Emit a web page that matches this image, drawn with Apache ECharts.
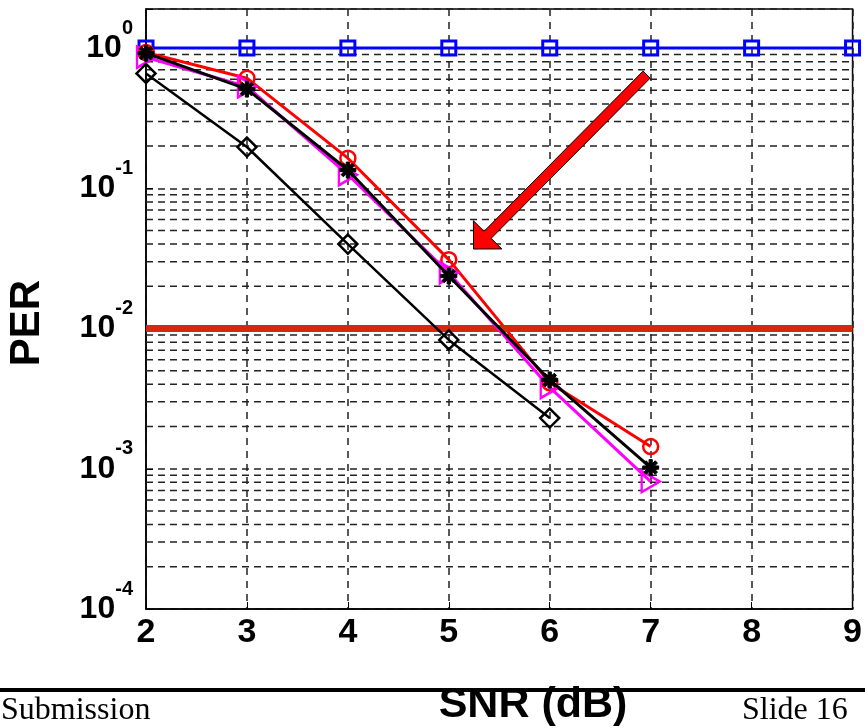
<!DOCTYPE html>
<html>
<head>
<meta charset="utf-8">
<script src="https://cdn.jsdelivr.net/npm/echarts@6/dist/echarts.min.js"></script>
<style>
html, body { margin: 0; padding: 0; background: #fff; }
#chart { width: 865px; height: 728px; }
</style>
</head>
<body>
<div id="chart"></div>
<script>
// SNR values (x) and PER curves
var snr = [2, 3, 4, 5, 6, 7, 8, 9];
var perSquare = [1, 1, 1, 1, 1, 1, 1, 1];
var perCircle = [0.93, 0.61, 0.164, 0.031, 0.0041, 0.00144];
var perTriangle = [0.86, 0.53, 0.125, 0.025, 0.0038, 0.00081];
var perStar = [0.92, 0.51, 0.135, 0.0237, 0.0043, 0.00102];
var perDiamond = [0.66, 0.197, 0.04, 0.0083, 0.0023];
var targetPer = 0.01;

// minor log grid lines (2..9 in each decade)
var decades = [1e-4, 1e-3, 1e-2, 1e-1];
var minorSteps = [2, 3, 4, 5, 6, 7, 8, 9];

// arrow annotation, in data coordinates
var arrowTail = [6.96, 0.647];
var arrowTip = [5.245, 0.0369];

var boldFont = "'Liberation Sans', Arial, sans-serif";
var serifFont = "'Liberation Serif', 'Times New Roman', serif";

function pairs(ys) {
    return ys.map(function (v, i) { return [snr[i], v]; });
}

// one broken line series holding every minor grid line
var minorData = [];
decades.forEach(function (d) {
    minorSteps.forEach(function (m) {
        var v = d * m;
        minorData.push([snr[0], v], [snr[snr.length - 1], v], [snr[snr.length - 1], '-']);
    });
});

var starPath = 'path://M-1.2,-6L1.2,-6L1.2,6L-1.2,6Z M-6,-1.2L6,-1.2L6,1.2L-6,1.2Z ' +
    'M-3.39,-5.09L5.09,3.39L3.39,5.09L-5.09,-3.39Z M3.39,-5.09L5.09,-3.39L-3.39,5.09L-5.09,3.39Z';

function hollow(color, width) {
    return { color: 'rgba(0,0,0,0)', borderColor: color, borderWidth: width };
}

var myChart = echarts.init(document.getElementById('chart'));

var option = {
    animation: false,
    backgroundColor: '#fff',
    grid: {
        left: 146, right: 7, top: 9, bottom: 119,
        show: true, borderColor: '#000', borderWidth: 1.5
    },
    xAxis: {
        type: 'value',
        min: 2, max: 9, interval: 1,
        axisLine: { lineStyle: { color: '#000', width: 1.5 } },
        axisTick: { inside: true, length: 7, lineStyle: { color: '#000' } },
        axisLabel: {
            margin: 7, color: '#000',
            fontSize: 34, fontWeight: 'bold', fontFamily: boldFont
        },
        splitLine: { show: true, lineStyle: { color: '#222', type: [7, 6], width: 1.5 } }
    },
    yAxis: {
        type: 'log',
        logBase: 10,
        min: 1e-4, max: 1.9,
        axisLine: { lineStyle: { color: '#000', width: 1.5 } },
        axisTick: { inside: true, length: 7, lineStyle: { color: '#000' } },
        axisLabel: {
            margin: 13,
            formatter: function (v) {
                var l = Math.log10(v);
                var e = Math.round(l);
                if (Math.abs(l - e) > 1e-6) return '';
                return '{b|10}{e|' + e + '}';
            },
            rich: {
                b: { fontSize: 32, fontWeight: 'bold', fontFamily: boldFont, color: '#000',
                     lineHeight: 32, padding: [14, 0, 14, 0] },
                e: { fontSize: 20, fontWeight: 'bold', fontFamily: boldFont, color: '#000',
                     lineHeight: 20, padding: [0, 0, 40, 0] }
            }
        },
        splitLine: { show: true, lineStyle: { color: '#222', type: [7, 5], width: 1.5 } }
    },
    series: [
        {
            name: 'minor grid',
            type: 'line',
            data: minorData,
            silent: true,
            symbol: 'none',
            connectNulls: false,
            lineStyle: { color: '#222', type: [7, 5], width: 1.5 },
            z: 1
        },
        {
            name: 'square',
            type: 'line',
            data: pairs(perSquare),
            symbol: 'rect', symbolSize: 14,
            lineStyle: { color: '#0000ff', width: 3 },
            itemStyle: hollow('#0000ff', 3),
            z: 3
        },
        {
            name: 'circle',
            type: 'line',
            data: pairs(perCircle),
            symbol: 'circle', symbolSize: 15,
            lineStyle: { color: '#ff0000', width: 3 },
            itemStyle: hollow('#ff0000', 2.5),
            z: 4
        },
        {
            name: 'triangle',
            type: 'line',
            data: pairs(perTriangle),
            symbol: 'triangle', symbolSize: [21, 18], symbolRotate: -90,
            lineStyle: { color: '#ff00ff', width: 3 },
            itemStyle: hollow('#ff00ff', 2.5),
            z: 5
        },
        {
            name: 'star',
            type: 'line',
            data: pairs(perStar),
            symbol: starPath, symbolSize: 16,
            lineStyle: { color: '#000', width: 3 },
            itemStyle: { color: '#000', borderColor: '#000', borderWidth: 1 },
            z: 6
        },
        {
            name: 'diamond',
            type: 'line',
            data: pairs(perDiamond),
            symbol: 'diamond', symbolSize: 19,
            lineStyle: { color: '#000', width: 2.5 },
            itemStyle: hollow('#000', 2.5),
            z: 6
        },
        {
            name: 'target',
            type: 'line',
            data: [],
            markLine: {
                silent: true,
                symbol: 'none',
                label: { show: false },
                lineStyle: { color: '#d42a0c', type: 'solid', width: 7 },
                data: [{ yAxis: targetPer }]
            },
            z: 7
        }
    ]
};

myChart.setOption(option);

// arrow drawn from data coordinates
var p0 = myChart.convertToPixel({ gridIndex: 0 }, arrowTail);
var p1 = myChart.convertToPixel({ gridIndex: 0 }, arrowTip);
var dx = p1[0] - p0[0], dy = p1[1] - p0[1];
var len = Math.sqrt(dx * dx + dy * dy);
var ux = dx / len, uy = dy / len;
var nx = -uy, ny = ux;
var shaft = 5, head = 20, headLen = 20;
var bx = p1[0] - ux * headLen, by = p1[1] - uy * headLen;
var arrowPts = [
    [p0[0] + nx * shaft, p0[1] + ny * shaft],
    [bx + nx * shaft, by + ny * shaft],
    [bx + nx * head, by + ny * head],
    [p1[0], p1[1]],
    [bx - nx * head, by - ny * head],
    [bx - nx * shaft, by - ny * shaft],
    [p0[0] - nx * shaft, p0[1] - ny * shaft]
];

myChart.setOption({
    graphic: [
        {
            type: 'polygon', z: 100,
            shape: { points: arrowPts },
            style: { fill: '#ff0000', stroke: '#000', lineWidth: 1 }
        },
        {
            type: 'text', x: 27, y: 323, rotation: Math.PI / 2, z: 100,
            style: {
                text: 'PER', fill: '#000', font: 'bold 42px ' + boldFont,
                textAlign: 'center', textVerticalAlign: 'middle'
            }
        },
        {
            type: 'rect', z: 90,
            shape: { x: 0, y: 688, width: 865, height: 4 },
            style: { fill: '#000' }
        },
        {
            type: 'text', x: 533, y: 705, z: 100,
            style: {
                text: 'SNR (dB)', fill: '#000', font: 'bold 43px ' + boldFont,
                textAlign: 'center', textVerticalAlign: 'middle'
            }
        },
        {
            type: 'text', x: 1, y: 711, z: 100,
            style: {
                text: 'Submission', fill: '#000', font: '32px ' + serifFont,
                textAlign: 'left', textVerticalAlign: 'middle'
            }
        },
        {
            type: 'text', x: 742, y: 711, z: 100,
            style: {
                text: 'Slide 16', fill: '#000', font: '32px ' + serifFont,
                textAlign: 'left', textVerticalAlign: 'middle'
            }
        }
    ]
});
</script>
</body>
</html>
